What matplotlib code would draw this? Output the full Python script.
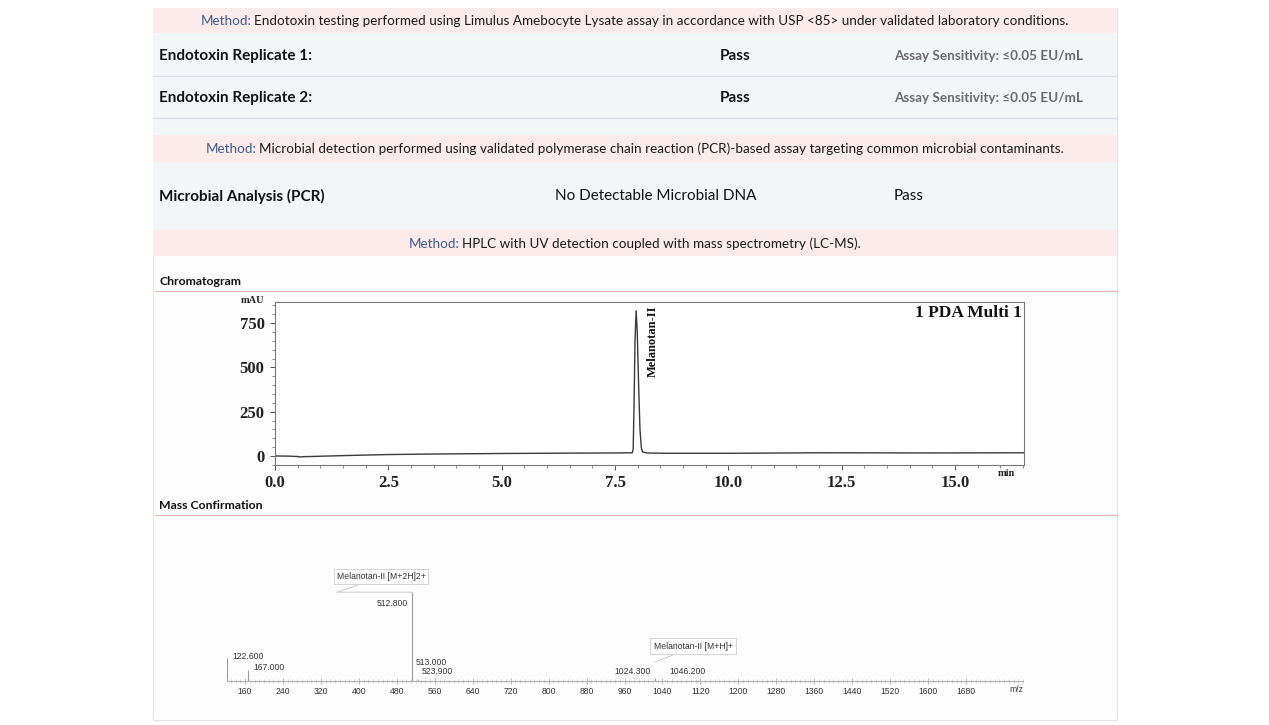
import matplotlib
matplotlib.use("Agg")
import matplotlib.pyplot as plt
from matplotlib.patches import Rectangle
from matplotlib.ticker import MultipleLocator, FormatStrFormatter

# ---- report text ----
method_notes = [
    "Endotoxin testing performed using Limulus Amebocyte Lysate assay in accordance with USP <85> under validated laboratory conditions.",
    "Microbial detection performed using validated polymerase chain reaction (PCR)-based assay targeting common microbial contaminants.",
    "HPLC with UV detection coupled with mass spectrometry (LC-MS).",
]
endotoxin_tests = ["Endotoxin Replicate 1:", "Endotoxin Replicate 2:"]
endotoxin_results = ["Pass", "Pass"]
endotoxin_sensitivity = ["Assay Sensitivity: \u22640.05 EU/mL", "Assay Sensitivity: \u22640.05 EU/mL"]
pcr_test = "Microbial Analysis (PCR)"
pcr_finding = "No Detectable Microbial DNA"
pcr_result = "Pass"

# ---- chromatogram ----
rt_min = [0.0, 0.3, 0.5, 0.55, 0.62, 0.8, 1.5, 2.5, 3.5, 5.0, 6.5, 7.5, 7.88, 7.90, 7.92,
          7.94, 7.965, 7.99, 8.02, 8.05, 8.08, 8.11, 8.2, 8.6, 10.0, 12.0, 14.5, 16.52]
signal_mau = [0, -1, -3, -6, -4, -3, 2, 8, 11, 14, 16, 17, 18, 40, 300,
              650, 820, 700, 400, 150, 45, 22, 17, 15, 15, 18, 17, 18]
peak_name = "Melanotan-II"
detector = "1 PDA Multi 1"

# ---- mass spectrum ----
ms_mz = [122.6, 167.0, 512.8, 513.0, 523.9, 1024.3, 1046.2]
ms_intensity = [26, 12, 100, 3, 2, 3, 1.5]
ms_labels = ["122.600", "167.000", "512.800", "513.000", "523.900", "1024.300", "1046.200"]
callout_names = ["Melanotan-II [M+2H]2+", "Melanotan-II [M+H]+"]

DOC = ["Lato", "DejaVu Sans"]
SERIF = ["Liberation Serif", "DejaVu Serif"]
SANS = ["Liberation Sans", "DejaVu Sans"]
W, H = 1269, 725

fig = plt.figure(figsize=(W / 100, H / 100), dpi=100)
page = fig.add_axes([0, 0, 1, 1])
page.set_xlim(0, W)
page.set_ylim(H, 0)
page.axis("off")
r = fig.canvas.get_renderer()

# page panel and bands
page.add_patch(Rectangle((153, 8), 964, 712, fc="#fdfdfd", ec="#e4e4e4", lw=0.8))
page.add_patch(Rectangle((153, 33), 964, 197, fc="#f3f6f9", ec="none"))
for y0, y1 in [(8, 33), (135, 162), (230, 256)]:
    page.add_patch(Rectangle((153, y0), 964, y1 - y0, fc="#fbeceb", ec="none"))
for y in [76, 118]:
    page.plot([153, 1117], [y, y], color="#d8dfe8", lw=0.9)
for y in [291, 515]:
    page.plot([155, 1117], [y, y], color="#eab8b3", lw=0.9)


def method_line(y, body):
    t = page.text(635, y, "Method: " + body, ha="center", va="center", fontsize=9.7, family=DOC)
    bb = t.get_window_extent(r)
    t.remove()
    pre = page.text(bb.x0, y, "Method:", ha="left", va="center", fontsize=9.7, family=DOC, color="#3d5b8c")
    bb2 = pre.get_window_extent(r)
    page.text(bb2.x1 + 2.5, y, body, ha="left", va="center", fontsize=9.7, family=DOC, color="#1a1a1a")


method_line(21, method_notes[0])
for y, name, res, sens in zip([56, 98], endotoxin_tests, endotoxin_results, endotoxin_sensitivity):
    page.text(159, y, name, ha="left", va="center", fontsize=11, fontweight="bold", family=DOC, color="#111")
    page.text(735, y, res, ha="center", va="center", fontsize=11, fontweight="bold", family=DOC, color="#111")
    page.text(894, y, sens, ha="left", va="center", fontsize=9.7, fontweight="bold", family=DOC, color="#6a6a6a")
method_line(149, method_notes[1])
page.text(159, 196, pcr_test, ha="left", va="center", fontsize=11, fontweight="bold", family=DOC, color="#111")
page.text(656, 196, pcr_finding, ha="center", va="center", fontsize=11, family=DOC, color="#111")
page.text(894, 196, pcr_result, ha="left", va="center", fontsize=11, family=DOC, color="#111")
method_line(244, method_notes[2])
page.text(159, 281, "Chromatogram", ha="left", va="center", fontsize=8.8, fontweight="bold", family=DOC, color="#111")
page.text(159, 505, "Mass Confirmation", ha="left", va="center", fontsize=8.8, fontweight="bold", family=DOC, color="#111")

# ---- chromatogram ----
ax = fig.add_axes([275 / W, (H - 465) / H, 749 / W, 163 / H])
ax.plot(rt_min, signal_mau, color="#3a3a3a", lw=1.0)
ax.set_xlim(0, 16.52)
ax.set_ylim(-51, 869)
ax.xaxis.set_major_locator(MultipleLocator(2.5))
ax.xaxis.set_minor_locator(MultipleLocator(0.5))
ax.xaxis.set_major_formatter(FormatStrFormatter("%.1f"))
ax.yaxis.set_major_locator(MultipleLocator(250))
ax.yaxis.set_minor_locator(MultipleLocator(50))
ax.tick_params(which="major", direction="out", length=3.5, width=0.7, color="#555")
ax.tick_params(which="minor", direction="out", length=2, width=0.6, color="#777")
ax.tick_params(axis="x", pad=3.5)
ax.tick_params(axis="y", pad=4)
for lab in ax.get_xticklabels() + ax.get_yticklabels():
    lab.set_family(SERIF)
    lab.set_fontweight("bold")
    lab.set_fontsize(12)
    lab.set_color("#222")
for s in ax.spines.values():
    s.set_color("#777")
    s.set_linewidth(0.8)
ax.text(8.33, 852, peak_name, rotation=90, ha="center", va="top", fontsize=9,
        fontweight="bold", family=SERIF, color="#111")
ax.text(0.997, 0.98, detector, transform=ax.transAxes, ha="right", va="top", fontsize=12.5,
        fontweight="bold", family=SERIF, color="#111")
page.text(252, 300, "mAU", ha="center", va="center", fontsize=7.5, fontweight="bold", family=SERIF, color="#222")
page.text(1006, 473, "min", ha="center", va="center", fontsize=7.5, fontweight="bold", family=SERIF, color="#222")

# ---- mass spectrum ----
ms = fig.add_axes([227 / W, (H - 681) / H, 796 / W, 151 / H])
ms.patch.set_alpha(0)
ms.vlines(ms_mz, 0, ms_intensity, color="#9a9a9a", lw=0.8)
ms.set_xlim(122, 1800)
ms.set_ylim(0, 170)
for side in ["top", "left", "right"]:
    ms.spines[side].set_visible(False)
ms.spines["bottom"].set_color("#b0b0b0")
ms.spines["bottom"].set_linewidth(0.8)
ms.set_yticks([])
ms.set_xticks(range(160, 1681, 80))
ms.xaxis.set_minor_locator(MultipleLocator(10))
ms.tick_params(which="major", direction="inout", length=4, width=0.6, color="#aaa", pad=2.5,
               labelsize=6.2, labelcolor="#333")
ms.tick_params(which="minor", direction="inout", length=3, width=0.5, color="#c4c4c4")
for lab in ms.get_xticklabels():
    lab.set_family(SANS)
page.text(1016, 690, "m/z", ha="center", va="center", fontsize=6.2, family=SANS, color="#333")

label_offsets = [(5, 1, "left"), (5, 3, "left"), (-4, -11, "right"), (3, 16, "left"),
                 (4, 8, "left"), (-4, 7, "right"), (4, 8, "left")]
for mz, inten, lab, (dx, dy, ha) in zip(ms_mz, ms_intensity, ms_labels, label_offsets):
    ms.annotate(lab, (mz, inten), xytext=(dx, dy), textcoords="offset pixels", ha=ha, va="center",
                fontsize=6.2, family=SANS, color="#333")

# callouts
box = dict(boxstyle="square,pad=0.35", fc="white", ec="#cfcfcf", lw=0.6)
ms.plot([512.8, 354, 410], [100, 100, 110.4], color="#c4c4c4", lw=0.6)
ms.text(446.7, 118, callout_names[0], ha="center", va="center", fontsize=6.2, family=SANS, color="#333", bbox=box)
ms.plot([1024.3, 1077], [21, 32.6], color="#c4c4c4", lw=0.6)
ms.text(1104.5, 39.4, callout_names[1], ha="center", va="center", fontsize=6.2, family=SANS, color="#333", bbox=box)

fig.savefig("out.png", dpi=100)
